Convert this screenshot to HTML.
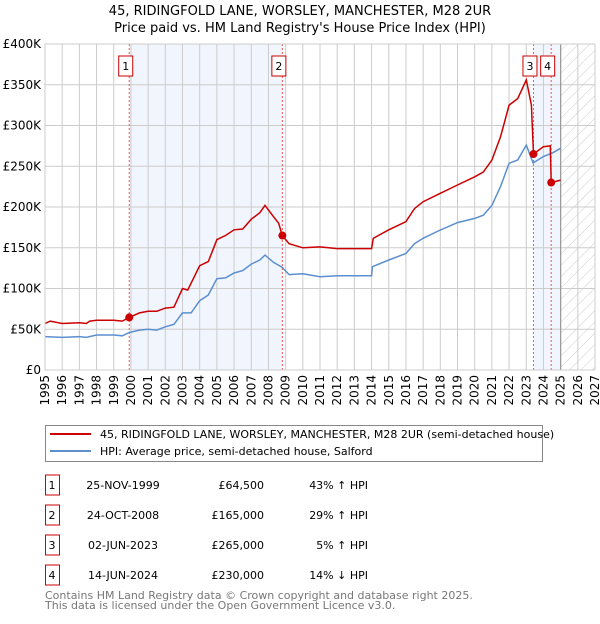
<!DOCTYPE html>
<html><head><meta charset="utf-8"><style>
body{margin:0;background:#fff;font-family:"DejaVu Sans","Liberation Sans",sans-serif;}
svg text{font-family:"DejaVu Sans","Liberation Sans",sans-serif;}
</style></head><body>
<svg id="chart" width="600" height="620" viewBox="0 0 600 620" xmlns="http://www.w3.org/2000/svg">
<defs><pattern id="hatch" width="8" height="8" patternUnits="userSpaceOnUse" patternTransform="rotate(45)"><line x1="0" y1="0" x2="0" y2="8" stroke="#ccc" stroke-width="1"/></pattern></defs>
<text x="300" y="15" text-anchor="middle" font-size="13">45, RIDINGFOLD LANE, WORSLEY, MANCHESTER, M28 2UR</text>
<text x="300" y="32" text-anchor="middle" font-size="13">Price paid vs. HM Land Registry's House Price Index (HPI)</text>
<g id="plot"></g>
<g>
<rect x="45.5" y="425.5" width="497" height="36" fill="#fff" stroke="#888"/>
<line x1="50" y1="434" x2="91" y2="434" stroke="#cc0000" stroke-width="2"/>
<text x="100" y="438" font-size="11">45, RIDINGFOLD LANE, WORSLEY, MANCHESTER, M28 2UR (semi-detached house)</text>
<line x1="50" y1="451" x2="91" y2="451" stroke="#5b8fd0" stroke-width="2"/>
<text x="100" y="455" font-size="11">HPI: Average price, semi-detached house, Salford</text>
</g>
<g id="table" font-size="11"></g>
<text x="45" y="599" font-size="11" fill="#777">Contains HM Land Registry data © Crown copyright and database right 2025.</text>
<text x="45" y="609" font-size="11" fill="#777">This data is licensed under the Open Government Licence v3.0.</text>
</svg>
<script>
const hpiYears=[1995,1996,1997,1997.4,1998,1999,1999.5,1999.9,2000.5,2001,2001.5,2002,2002.5,2003,2003.5,2004,2004.5,2005,2005.5,2006,2006.5,2007,2007.5,2007.8,2008.3,2008.8,2009.2,2010,2011,2012,2013,2014,2014.05,2015,2016,2016.5,2017,2018,2019,2020,2020.5,2021,2021.5,2022,2022.5,2023,2023.4,2024,2024.5,2025];
const hpiValues=[41000,40000,41000,40000,43000,43000,42000,46000,49000,50000,49000,53000,56000,70000,70000,85000,92000,112000,113000,119000,122000,130000,135000,141000,132000,126000,117000,118000,114500,115700,115700,115700,126800,135000,143000,155000,161600,171800,180800,186000,190000,202000,225000,253600,257700,276000,254000,262000,266000,272000];
const priceYears=[1995,1995.3,1996,1997,1997.4,1997.6,1998,1999,1999.5,1999.9,2000.5,2001,2001.5,2002,2002.5,2003,2003.3,2004,2004.5,2005,2005.5,2006,2006.5,2007,2007.5,2007.8,2008.3,2008.6,2008.8,2009.2,2010,2011,2012,2013,2014,2014.1,2015,2016,2016.5,2017,2018,2019,2020,2020.5,2021,2021.5,2022,2022.5,2023,2023.3,2023.42,2024,2024.4,2024.45,2025];
const priceValues=[57000,60000,57000,58000,57000,60000,61000,61000,60000,64500,70000,72000,72000,76000,77000,100000,98000,128000,133000,160000,165000,172000,173000,185000,193000,202000,188000,180000,165000,155000,150000,151000,149000,149000,149000,161600,172000,182000,198000,206500,216800,227000,237000,243000,257700,286000,325000,333000,356000,325000,265000,274000,275000,230000,233000];
const saleLabels=["1","2","3","4"];
const saleYears=[1999.9,2008.81,2023.42,2024.45];
const salePrices=[64500,165000,265000,230000];
const saleDates=["25-NOV-1999","24-OCT-2008","02-JUN-2023","14-JUN-2024"];
const salePriceText=["£64,500","£165,000","£265,000","£230,000"];
const saleHpiText=["43% ↑ HPI","29% ↑ HPI","5% ↑ HPI","14% ↓ HPI"];
const yTicks=[0,50000,100000,150000,200000,250000,300000,350000,400000];
const yTickLabels=["£0","£50K","£100K","£150K","£200K","£250K","£300K","£350K","£400K"];
const xTicks=[1995,1996,1997,1998,1999,2000,2001,2002,2003,2004,2005,2006,2007,2008,2009,2010,2011,2012,2013,2014,2015,2016,2017,2018,2019,2020,2021,2022,2023,2024,2025,2026,2027];

const L=45,R=595,T=44,B=370,X0=1995,X1=2027,YMAX=400000;
const xs=v=>L+(v-X0)/(X1-X0)*(R-L);
const ys=v=>B-v/YMAX*(B-T);
const NS="http://www.w3.org/2000/svg";
const g=document.getElementById('plot');
function mk(tag,attrs,parent){const e=document.createElementNS(NS,tag);for(const k in attrs)e.setAttribute(k,attrs[k]);(parent||g).appendChild(e);return e;}

let r=mk('rect',{x:xs(saleYears[0]),y:T,width:xs(saleYears[1])-xs(saleYears[0]),height:B-T,fill:'#eef3fc',opacity:0.8});


r=mk('rect',{x:xs(saleYears[2]),y:T,width:xs(2025)-xs(saleYears[2]),height:B-T,fill:'#eef3fc',opacity:0.8});


r=mk('rect',{x:xs(2025),y:T,width:R-xs(2025),height:B-T,fill:'url(#hatch)'});



xTicks.forEach(t=>{
  const l=mk('line',{x1:xs(t),x2:xs(t),y1:T,y2:B,stroke:'#ccc','stroke-width':1});
  
  
  const tx=mk('text',{x:0,y:0,'font-size':12,'text-anchor':'end',transform:`translate(${xs(t)+4},${B+5}) rotate(-90)`});
  tx.textContent=t;
  
  
});
yTicks.forEach((t,i)=>{
  const l=mk('line',{x1:L,x2:R,y1:ys(t),y2:ys(t),stroke:'#ccc','stroke-width':1});
  
  
  const tx=mk('text',{x:L-4,y:ys(t)+4,'font-size':12,'text-anchor':'end'});
  tx.textContent=yTickLabels[i];
  
  
});
let bl=mk('line',{x1:xs(2025),x2:xs(2025),y1:T,y2:B,stroke:'#999','stroke-width':1.2});


saleYears.forEach((s,i)=>{
  const l=mk('line',{x1:xs(s),x2:xs(s),y1:T,y2:B,stroke:'#e55','stroke-width':1,'stroke-dasharray':'2,2'});
  
  
});
const pts=(xa,ya)=>xa.map((x,i)=>xs(x).toFixed(1)+','+ys(ya[i]).toFixed(1)).join(' ');
let hl=mk('polyline',{points:pts(hpiYears,hpiValues),fill:'none',stroke:'#5b8fd0','stroke-width':1.5});


let pl=mk('polyline',{points:pts(priceYears,priceValues),fill:'none',stroke:'#cc0000','stroke-width':1.5});


let frame=mk('rect',{x:L,y:T,width:R-L,height:B-T,fill:'none',stroke:'#ccc'});


saleYears.forEach((s,i)=>{
  const c=mk('circle',{cx:xs(s),cy:ys(salePrices[i]),r:4,fill:'#cc0000'});
  
  
  const cx=xs(s)-3.5;
  const b=mk('rect',{x:cx-7,y:T+12,width:14,height:20,fill:'#fff',stroke:'#cc0000'});
  
  
  const t=mk('text',{x:cx,y:T+26,'font-size':11,'text-anchor':'middle'});
  t.textContent=saleLabels[i];
  
  
});
const tb=document.getElementById('table');
saleLabels.forEach((lab,i)=>{
  const y=485+i*30;
  const b=mk('rect',{x:45.5,y:y-10,width:14,height:20,fill:'#fff',stroke:'#cc0000'},tb);
  
  
  const cells=[[52,'middle',lab],[123,'middle',saleDates[i]],[264,'end',salePriceText[i]],[368,'end',saleHpiText[i]]];
  cells.forEach(([x,a,s],j)=>{
    const t=mk('text',{x:x,y:y+4,'text-anchor':a},tb);
    t.textContent=s;
    
    
  });
});
</script>
</body></html>
